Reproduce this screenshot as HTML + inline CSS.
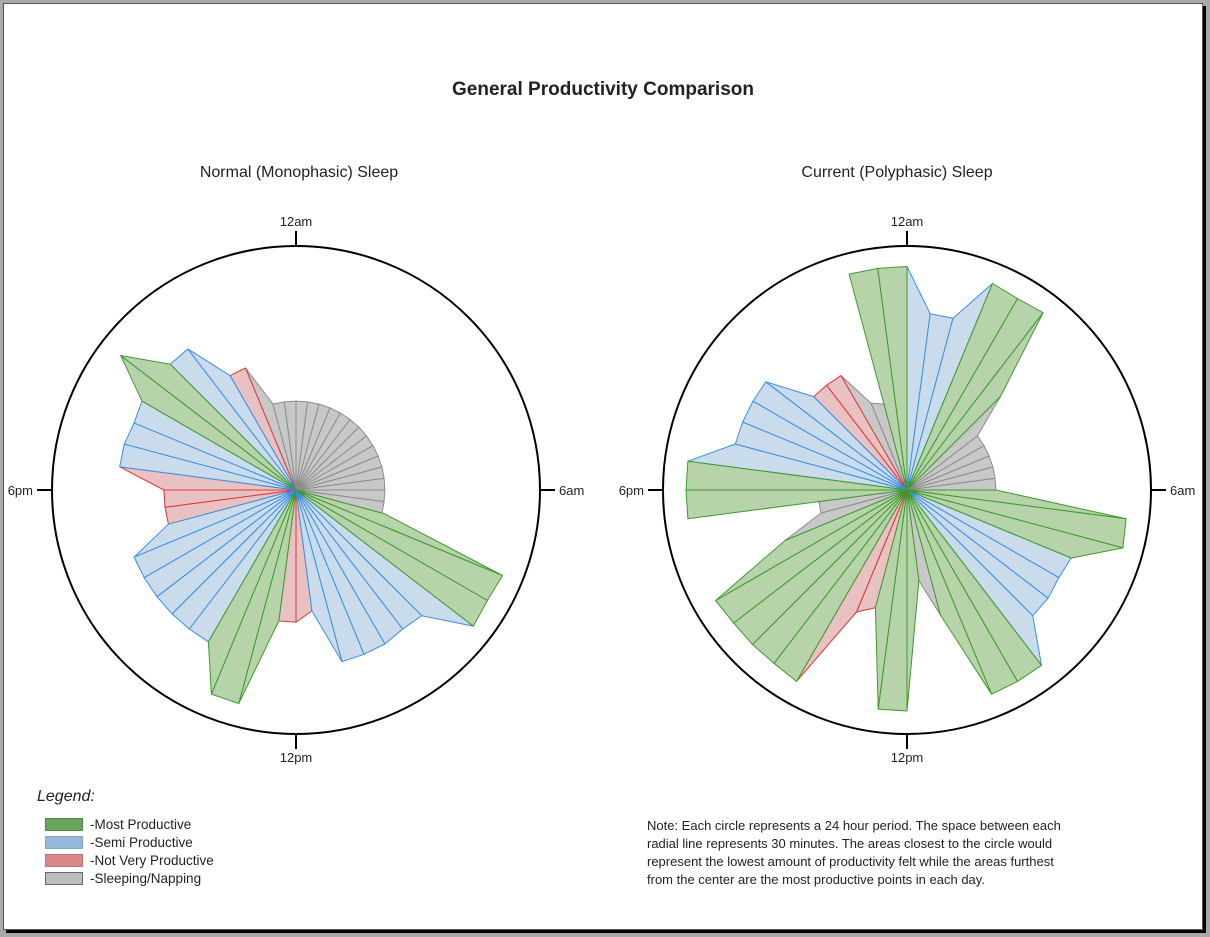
<!DOCTYPE html>
<html><head><meta charset="utf-8"><style>
html,body{margin:0;padding:0;background:#a9a9a9;}
body{width:1210px;height:937px;position:relative;overflow:hidden;font-family:"Liberation Sans",sans-serif;}
#page{position:absolute;left:3px;top:3px;width:1198px;height:925px;background:#fff;border:1px solid #555;box-shadow:3px 3px 0 #000;}
</style></head><body>
<div id="page"></div>
<svg id="chart" width="1210" height="937" style="position:absolute;left:0;top:0" font-family="Liberation Sans, sans-serif">
<text x="603" y="95" text-anchor="middle" font-size="19" font-weight="bold" fill="#222">General Productivity Comparison</text>
<text x="299" y="177" text-anchor="middle" font-size="16" fill="#222">Normal (Monophasic) Sleep</text>
<text x="897" y="177" text-anchor="middle" font-size="16" fill="#222">Current (Polyphasic) Sleep</text>
<g id="left"></g>
<g id="right"></g>
<text x="37" y="801" font-size="16" font-style="italic" fill="#222">Legend:</text>
<g font-size="13.5" fill="#222">
<g><rect x="45.5" y="818.5" width="37" height="12" fill="#6aa55a" stroke="#4f8a40"/><text x="90" y="829">-Most Productive</text></g>
<g><rect x="45.5" y="836.5" width="37" height="12" fill="#96b9da" stroke="#7fa6cc"/><text x="90" y="847">-Semi Productive</text></g>
<g><rect x="45.5" y="854.5" width="37" height="12" fill="#d98888" stroke="#c77070"/><text x="90" y="865">-Not Very Productive</text></g>
<g><rect x="45.5" y="872.5" width="37" height="12" fill="#bdbdbd" stroke="#666"/><text x="90" y="883">-Sleeping/Napping</text></g>
</g>
<g font-size="13" fill="#222">
<text x="647" y="830">Note: Each circle represents a 24 hour period. The space between each</text>
<text x="647" y="848">radial line represents 30 minutes. The areas closest to the circle would</text>
<text x="647" y="866">represent the lowest amount of productivity felt while the areas furthest</text>
<text x="647" y="884">from the center are the most productive points in each day.</text>
</g>
</svg>
<script>
// Categories: G=most, B=semi, R=not very, S=sleeping. 48 half-hour segments from 12am clockwise.
const leftCats = ["S","S","S","S","S","S","S","S","S","S","S","S","S","S","G","G","G","B","B","B","B","B","B","R","R","G","G","G","B","B","B","B","B","B","R","R","R","B","B","B","G","G","B","B","R","S","S","S"];
const leftStart = [35,35,35,35,35,35,35,35,35,35,35,35,35,35,36,88,87,88,70,69,70,70,70,48,52,52,87,87,69,69,69,69,69,69,52,52,52,70,70,69,70,87,70,70,52,52,35,35];
const leftEnd   = [35,35,35,35,35,35,35,35,35,35,35,35,35,35,88,87,88,70,69,70,70,70,48,52,52,87,87,69,69,69,69,69,69,52,52,52,70,70,69,70,87,70,70,52,52,35,35,35];
const rightCats = ["B","B","B","G","G","G","S","S","S","S","S","S","G","G","G","B","B","B","B","G","G","G","S","G","G","G","R","R","G","G","G","G","G","S","S","G","G","B","B","B","B","B","R","R","S","S","G","G"];
const rightStart = [88,70,70,88,87,88,52,35,35,35,35,35,35,87,88,70,69,70,70,87,87,87,51,36,87,87,48,52,87,86,86,86,87,52,35,87,87,87,70,70,70,70,52,52,52,37,88,88];
const rightEnd   = [70,70,88,87,88,52,35,35,35,35,35,35,87,88,70,69,70,70,87,87,87,51,36,87,87,48,52,87,86,86,86,87,52,35,35,87,87,70,70,70,70,52,52,52,37,35,88,88];
const tickLabels = ["12am","6am","12pm","6pm"];

const NS="http://www.w3.org/2000/svg";
const R=244, SCALE=2.54;
const fills={G:"#b6d3aa",B:"#cadbeb",R:"#e8c2c2",S:"#c8c8c8"};
const strokes={G:"#3f9a2c",B:"#3a8fe8",R:"#e03535",S:"#8c8c8c"};
const order={S:0,R:1,B:2,G:3};
function rScale(v){return v*SCALE;}
function ptPx(cx,cy,ang,r){const a=ang*Math.PI/180;return [cx+r*Math.sin(a),cy-r*Math.cos(a)];}
function pt(cx,cy,ang,v){return ptPx(cx,cy,ang,rScale(v));}
function draw(gid,cx,cy,cats,starts,ends){
  const g=document.getElementById(gid);
  const idx=cats.map((c,i)=>i).sort((a,b)=>order[cats[a]]-order[cats[b]]);
  const n=cats.length, step=360/n;
  idx.forEach(i=>{
    const p1=pt(cx,cy,i*step,starts[i]),p2=pt(cx,cy,(i+1)*step,ends[i]);
    const poly=document.createElementNS(NS,"polygon");
    
    
    poly.setAttribute("points",`${cx},${cy} ${p1[0].toFixed(1)},${p1[1].toFixed(1)} ${p2[0].toFixed(1)},${p2[1].toFixed(1)}`);
    poly.setAttribute("fill",fills[cats[i]]);
    poly.setAttribute("stroke",strokes[cats[i]]);
    poly.setAttribute("stroke-width","1");
    poly.setAttribute("stroke-linejoin","round");
    g.appendChild(poly);
  });
  const c=document.createElementNS(NS,"circle");
  
  
  c.setAttribute("cx",cx);c.setAttribute("cy",cy);c.setAttribute("r",R);
  c.setAttribute("fill","none");c.setAttribute("stroke","#000");c.setAttribute("stroke-width","2");
  g.appendChild(c);
  tickLabels.forEach((lab,k)=>{
    const ang=k*90;
    const i1=ptPx(cx,cy,ang,R),o1=ptPx(cx,cy,ang,R+15);
    const l=document.createElementNS(NS,"line");
    
    
    l.setAttribute("x1",i1[0]);l.setAttribute("y1",i1[1]);l.setAttribute("x2",o1[0]);l.setAttribute("y2",o1[1]);
    l.setAttribute("stroke","#000");l.setAttribute("stroke-width","2");
    g.appendChild(l);
    const t=document.createElementNS(NS,"text");
    
    
    t.setAttribute("font-size","13");t.setAttribute("fill","#222");
    let x,y,anchor;
    if(k===0){x=cx;y=cy-R-20;anchor="middle";}
    else if(k===1){x=cx+R+19;y=cy+5;anchor="start";}
    else if(k===2){x=cx;y=cy+R+28;anchor="middle";}
    else {x=cx-R-19;y=cy+5;anchor="end";}
    t.setAttribute("x",x);t.setAttribute("y",y);t.setAttribute("text-anchor",anchor);
    t.textContent=lab;
    g.appendChild(t);
  });
}
draw("left",296,490,leftCats,leftStart,leftEnd);
draw("right",907,490,rightCats,rightStart,rightEnd);
</script>
</body></html>
